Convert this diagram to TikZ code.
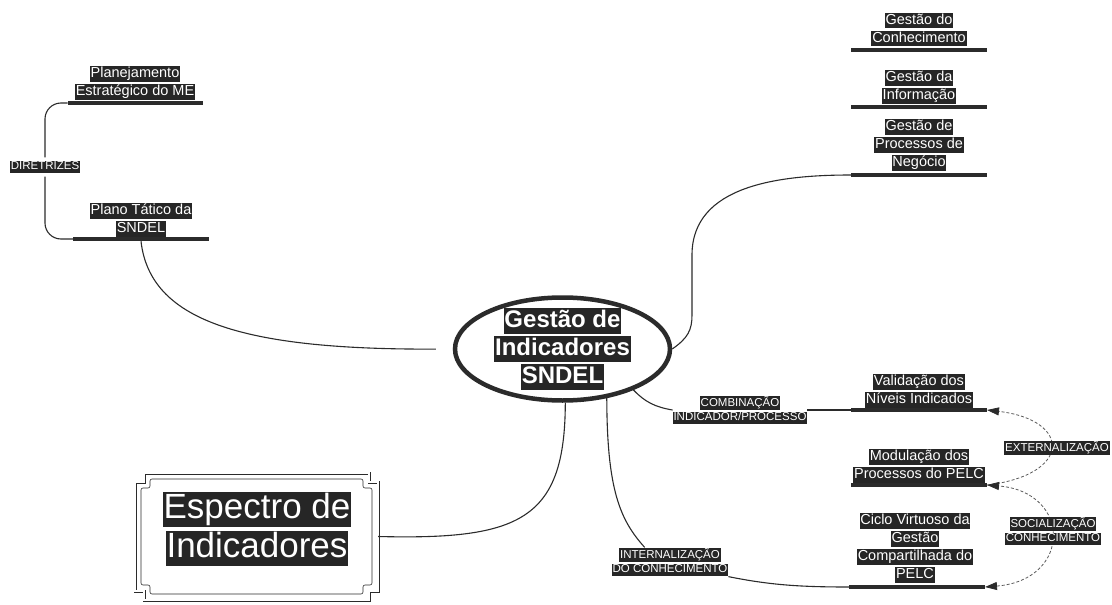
\documentclass[tikz,border=0pt]{standalone}
\usepackage{fontspec}
\setmainfont{Liberation Sans}
\usetikzlibrary{shapes.geometric,arrows.meta}

\definecolor{hlbg}{HTML}{262626}
\definecolor{ink}{HTML}{2B2B2B}

% white text on a dark band, one band per line
\setlength\fboxsep{0.8pt}
\newcommand\hlt[1]{\colorbox{hlbg}{\rule[-.23em]{0pt}{.98em}\textcolor{white}{#1}}}

\tikzstyle{topic}=[align=center, inner sep=0pt, font=\fontsize{14.5}{18}\selectfont]
\tikzstyle{tagline}=[align=center, inner sep=0pt, font=\fontsize{11.5}{14.5}\selectfont]
\tikzstyle{bar}=[fill=ink, minimum width=136pt, minimum height=4.5pt, inner sep=0pt, outer sep=0pt]
\tikzstyle{link}=[draw=ink, line width=1.1pt]
\tikzstyle{spiral}=[draw=black!65, line width=.8pt, dash pattern=on 3pt off 2pt]

\begin{document}
\begin{tikzpicture}[x=1pt, y=-1pt, >={Triangle[length=12pt,width=8pt,color=ink]}]
    \useasboundingbox (0,0) rectangle (1112,605);

    % right column
    \node[topic] (conh) at (919,29.5) {\hlt{Gestão do}\\\hlt{Conhecimento}};
    \node[bar] (conhbar) at (919,50) {};
    \node[topic] (info) at (919,87) {\hlt{Gestão da}\\\hlt{Informação}};
    \node[bar] (infobar) at (919,107) {};
    \node[topic] (proc) at (919,145) {\hlt{Gestão de}\\\hlt{Processos de}\\\hlt{Negócio}};
    \node[bar] (procbar) at (919,175) {};

    \node[topic] (valid) at (919,391) {\hlt{Validação dos}\\\hlt{Níveis Indicados}};
    \node[bar] (validbar) at (919,410) {};
    \node[topic] (modul) at (919,466) {\hlt{Modulação dos}\\\hlt{Processos do PELC}};
    \node[bar] (modulbar) at (919,485) {};
    \node[topic] (ciclo) at (915,548) {\hlt{Ciclo Virtuoso da}\\\hlt{Gestão}\\\hlt{Compartilhada do}\\\hlt{PELC}};
    \node[bar] (ciclobar) at (917,587) {};

    % left column
    \node[topic] (plan) at (135,83) {\hlt{Planejamento}\\\hlt{Estratégico do ME}};
    \node[bar, minimum width=135pt] (planbar) at (135,103) {};
    \node[topic] (tac) at (141,220) {\hlt{Plano Tático da}\\\hlt{SNDEL}};
    \node[bar] (tacbar) at (141,239) {};
    \node[tagline] (diret) at (45,167) {\hlt{DIRETRIZES}};

    % centre
    \node[ellipse, draw=ink, line width=4.5pt, minimum width=215pt, minimum height=103pt] (cen) at (562.5,349) {};
    \node[align=center, inner sep=0pt, font=\fontsize{24}{28}\selectfont\bfseries] (centxt) at (cen)
        {\hlt{Gestão de}\\\hlt{Indicadores}\\\hlt{SNDEL}};

    % framed box
    \node[minimum width=243pt, minimum height=127pt, inner sep=0pt] (espec) at (256.5,536.5) {};
    \draw[ink, line width=.6pt, double, double distance=1.8pt]
        (144,473) -- (369,473) -- (369,482) -- (378,482) -- (378,591) -- (369,591)
        -- (369,600) -- (144,600) -- (144,591) -- (135,591) -- (135,482) -- (144,482) -- cycle;
    \draw[ink, line width=.6pt, rounded corners=2pt]
        (150,479) -- (363,479) -- (363,488) -- (372,488) -- (372,585) -- (363,585)
        -- (363,594) -- (150,594) -- (150,585) -- (141,585) -- (141,488) -- (150,488) -- cycle;
    \node[align=center, inner sep=0pt, font=\fontsize{35}{39}\selectfont] (spectxt) at (257,529)
        {\hlt{Espectro de}\\\hlt{Indicadores}};

    % labels on the links
    \node[tagline] (comb) at (740,410) {\hlt{COMBINAÇÃO}\\\hlt{INDICADOR/PROCESSO}};
    \node[tagline] (intern) at (670,562) {\hlt{INTERNALIZAÇÃO}\\\hlt{DO CONHECIMENTO}};

    % links
    \draw[link, rounded corners=16pt, shorten <=3pt] (diret.north) |- (planbar.west);
    \draw[link, rounded corners=16pt, shorten <=3pt] (diret.south) |- (tacbar.west);
    \draw[link, shorten >=17pt] (tacbar.south) .. controls (150,320) and (240,350) .. (cen.west);
    \draw[link] (cen.east) .. controls (688,338) and (692,330) .. (692,315) -- (692,255)
        .. controls (692,185) and (780,175) .. (procbar.west);
    \draw[link] (cen.-30) .. controls (645,402) and (655,407) .. (comb.west);
    \draw[link] (comb.east) -- (validbar.west);
    \draw[link] (cen.-87) .. controls (565,520) and (520,540) .. (espec.east);
    \draw[link] (cen.-48) .. controls (607,490) and (620,520) .. (intern.150);
    \draw[link] (intern.south east) .. controls (770,585) and (800,587) .. (ciclobar.west);

    % knowledge spiral
    \draw[spiral, ->] (modulbar.east) .. controls (1072,475) and (1072,420) .. (validbar.east);
    \draw[spiral, <->] (ciclobar.east) .. controls (1072,580) and (1072,492) .. (modulbar.east);
    \node[tagline] (extern) at (1057,448) {\hlt{EXTERNALIZAÇÃO}};
    \node[tagline] (social) at (1053,531) {\hlt{SOCIALIZAÇÃO}\\\hlt{CONHECIMENTO}};
\end{tikzpicture}
\end{document}
